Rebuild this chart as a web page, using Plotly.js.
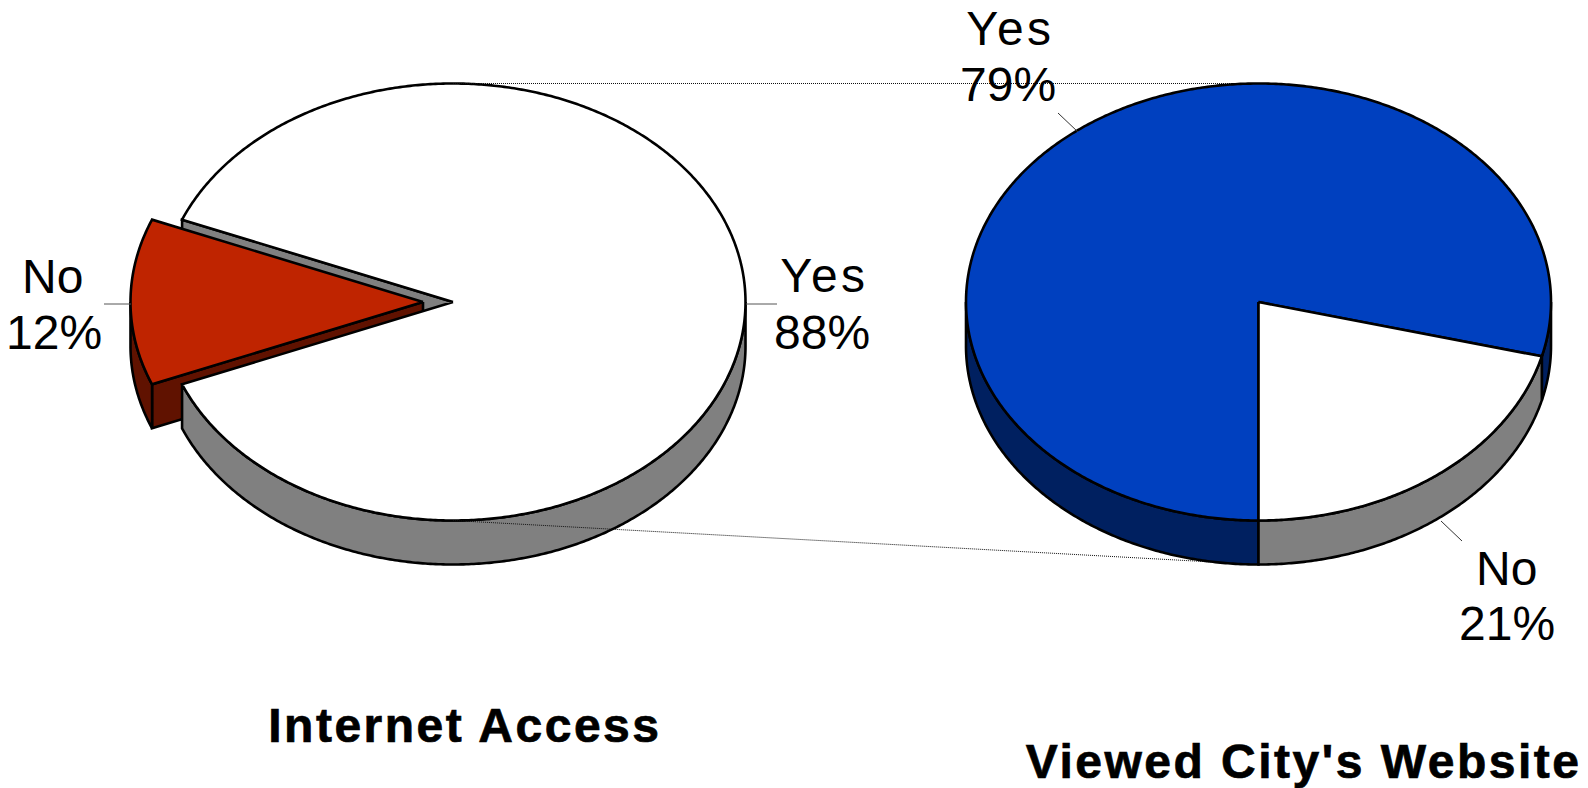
<!DOCTYPE html>
<html>
<head>
<meta charset="utf-8">
<script src="https://cdn.plot.ly/plotly-3.0.1.min.js"></script>
<style>
html,body{margin:0;padding:0;background:#fff;overflow:hidden}
#chart{width:1588px;height:788px}
.annotation[data-index="0"] text,.annotation[data-index="4"] text{letter-spacing:3.2px}
.annotation[data-index="8"] text,.annotation[data-index="9"] text{letter-spacing:2.5px;stroke:#000;stroke-width:.7px}
</style>
</head>
<body>
<div id="chart"></div>
<script>
// ---- chart values ----
var sliceLabels = ['Yes', 'No'];
var internetValues = [87.7, 12.3];
var websiteValues = [79, 21];
var chartTitles = ['Internet Access', "Viewed City's Website"];

// ---- styles and layout geometry ----
var white = '#FFFFFF', gray = '#808080', red = '#BF2400', darkRed = '#601200', blue = '#0040BF', darkBlue = '#002060';
var RX = 292.5, RY = 218.5, DEPTH = 44, CY = 302, CX_LEFT = 453, CX_RIGHT = 1258.5, EXPLODE = 30, LW = 2.6;

function px(cx, deg) { return cx + RX * Math.sin(deg * Math.PI / 180); }
function py(deg) { return CY - RY * Math.cos(deg * Math.PI / 180); }
function arc(cx, a0, a1, dy) {
  var n = Math.max(2, Math.ceil(Math.abs(a1 - a0) * 2)), xs = [], ys = [];
  for (var i = 0; i <= n; i++) {
    var a = a0 + (a1 - a0) * i / n;
    xs.push(px(cx, a)); ys.push(py(a) + (dy || 0));
  }
  return {x: xs, y: ys};
}
function poly(xs, ys, fill, name) {
  return {type: 'scatter', mode: 'lines', x: xs.concat([xs[0]]), y: ys.concat([ys[0]]),
    fill: 'toself', fillcolor: fill, line: {color: '#000', width: LW, simplify: false},
    hoverinfo: 'text', text: name || '', showlegend: false};
}
function topFace(cx, a0, a1, fill, name) {
  var a = arc(cx, a0, a1);
  return poly([cx].concat(a.x), [CY].concat(a.y), fill, name);
}
function wall(cx, a0, a1, fill, name) {
  var t = arc(cx, a0, a1), b = arc(cx, a1, a0, DEPTH);
  return poly(t.x.concat(b.x), t.y.concat(b.y), fill, name);
}
function cutWall(cx, deg, fill) {
  return poly([cx, px(cx, deg), px(cx, deg), cx], [CY, py(deg), py(deg) + DEPTH, CY + DEPTH], fill);
}
function seg(x0, y0, x1, y1, color, w, dash) {
  return {type: 'scatter', mode: 'lines', x: [x0, x1], y: [y0, y1],
    line: {color: color, width: w, dash: dash || 'solid'}, hoverinfo: 'skip', showlegend: false};
}

// Left pie: "No" slice centred on the left and pulled out
var noSpan = internetValues[1] / (internetValues[0] + internetValues[1]) * 360;
var noStart = 270 - noSpan / 2, noEnd = 270 + noSpan / 2;
var cxNo = CX_LEFT - EXPLODE;
// Right pie: "Yes" starts straight down and runs clockwise
var rYesSpan = websiteValues[0] / (websiteValues[0] + websiteValues[1]) * 360;
var rStart = 180, rEnd = rStart + rYesSpan;

var traces = [
  cutWall(CX_LEFT, noEnd, gray),
  cutWall(cxNo, noStart, darkRed),
  wall(cxNo, noStart, 270, darkRed, 'No'),
  wall(CX_LEFT, 90, noStart, gray, 'Yes'),
  topFace(CX_LEFT, noEnd, noStart + 360, white, 'Yes'),
  topFace(cxNo, noStart, noEnd, red, 'No'),
  // connectors between the pies
  seg(CX_LEFT, CY - RY, CX_RIGHT, CY - RY, '#111', 1, '1px,1px'),
  seg(CX_LEFT, CY + RY, CX_RIGHT, CY + RY + DEPTH, '#111', 1, '1px,1px'),
  // right pie
  wall(CX_RIGHT, 180, 270, darkBlue, 'Yes'),
  wall(CX_RIGHT, 90, rEnd - 360, darkBlue, 'Yes'),
  wall(CX_RIGHT, rEnd - 360, 180, gray, 'No'),
  topFace(CX_RIGHT, rStart, rEnd, blue, 'Yes'),
  topFace(CX_RIGHT, rEnd - 360, rStart, white, 'No'),
  // leader lines
  seg(746, 304, 777, 304, '#555', 1),
  seg(104, 304, 131, 304, '#555', 1),
  seg(1058, 113, 1078, 132, '#333', 1),
  seg(1441, 521, 1462, 541, '#333', 1)
];

function label(text, x, y) {
  return {text: text, x: x, y: y, xref: 'x', yref: 'y', xanchor: 'center', yanchor: 'middle', showarrow: false,
    font: {family: 'Liberation Sans, Arial, sans-serif', size: 48, color: '#000'}};
}
function title(text, x, y) {
  return {text: '<b>' + text + '</b>', x: x, y: y, xref: 'x', yref: 'y', xanchor: 'center', yanchor: 'middle', showarrow: false,
    font: {family: 'Liberation Sans, Arial, sans-serif', size: 48, color: '#000'}};
}
var annotations = [
  label(sliceLabels[0], 824, 275),
  label(Math.round(internetValues[0]) + '%', 822, 332),
  label(sliceLabels[1], 52, 276),
  label(Math.round(internetValues[1]) + '%', 54, 332),
  label(sliceLabels[0], 1010, 28),
  label(websiteValues[0] + '%', 1008, 84),
  label(sliceLabels[1], 1506, 568),
  label(websiteValues[1] + '%', 1507, 623),
  title(chartTitles[0], 465, 725),
  title(chartTitles[1], 1303, 761)
];

var layout = {
  width: 1588, height: 788,
  margin: {l: 0, r: 0, t: 0, b: 0, pad: 0},
  paper_bgcolor: '#fff', plot_bgcolor: '#fff',
  showlegend: false,
  xaxis: {range: [0, 1588], visible: false, fixedrange: true},
  yaxis: {range: [788, 0], visible: false, fixedrange: true},
  annotations: annotations
};
Plotly.newPlot('chart', traces, layout, {displayModeBar: false, staticPlot: true});
</script>
</body>
</html>
